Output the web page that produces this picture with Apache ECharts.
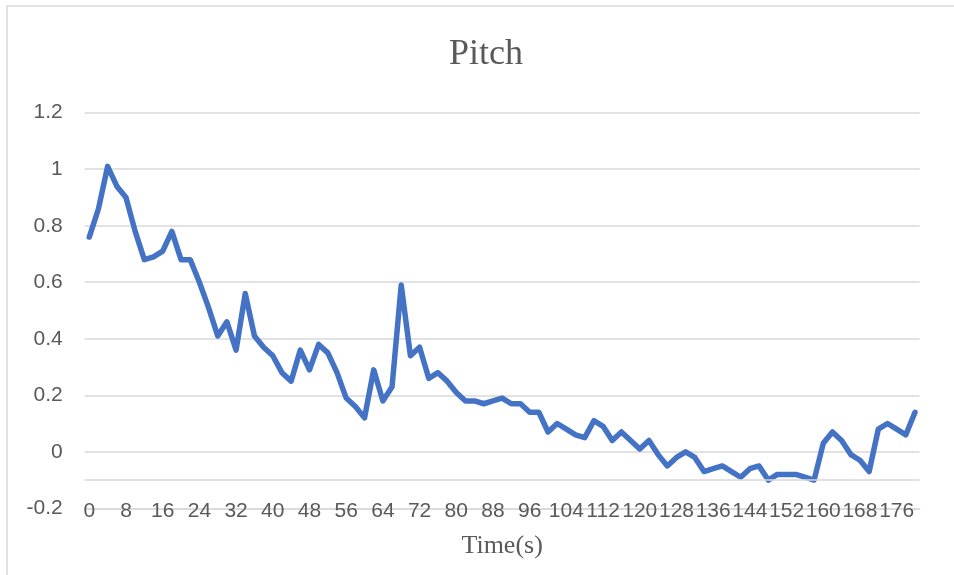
<!DOCTYPE html>
<html lang="en">
<head>
	<meta charset="UTF-8">
	<title>Pitch</title>
	<style>
		html, body { margin: 0; padding: 0; background: #fff; }
		#chart { width: 954px; height: 575px; }
	</style>
</head>
<body>
	<div id="chart"></div>
	<script src="https://cdn.jsdelivr.net/npm/echarts@6/dist/echarts.min.js"></script>
	<script>
		// time axis (s), one sample every 2 s
		var times = [0, 2, 4, 6, 8, 10, 12, 14, 16, 18, 20, 22, 24, 26, 28, 30, 32, 34, 36, 38,
			40, 42, 44, 46, 48, 50, 52, 54, 56, 58, 60, 62, 64, 66, 68, 70, 72, 74, 76, 78,
			80, 82, 84, 86, 88, 90, 92, 94, 96, 98, 100, 102, 104, 106, 108, 110, 112, 114, 116, 118,
			120, 122, 124, 126, 128, 130, 132, 134, 136, 138, 140, 142, 144, 146, 148, 150, 152, 154, 156, 158,
			160, 162, 164, 166, 168, 170, 172, 174, 176, 178, 180];

		// pitch values
		var pitch = [0.76, 0.86, 1.01, 0.94, 0.90, 0.78, 0.68, 0.69, 0.71, 0.78,
			0.68, 0.68, 0.60, 0.51, 0.41, 0.46, 0.36, 0.56, 0.41, 0.37,
			0.34, 0.28, 0.25, 0.36, 0.29, 0.38, 0.35, 0.28, 0.19, 0.16,
			0.12, 0.29, 0.18, 0.23, 0.59, 0.34, 0.37, 0.26, 0.28, 0.25,
			0.21, 0.18, 0.18, 0.17, 0.18, 0.19, 0.17, 0.17, 0.14, 0.14,
			0.07, 0.10, 0.08, 0.06, 0.05, 0.11, 0.09, 0.04, 0.07, 0.04,
			0.01, 0.04, -0.01, -0.05, -0.02, 0.00, -0.02, -0.07, -0.06, -0.05,
			-0.07, -0.09, -0.06, -0.05, -0.10, -0.08, -0.08, -0.08, -0.09, -0.10,
			0.03, 0.07, 0.04, -0.01, -0.03, -0.07, 0.08, 0.10, 0.08, 0.06,
			0.14];

		// y axis range
		var yMin = -0.2, yMax = 1.2, yStep = 0.2;
		// extra horizontal line seen in the picture
		var extraLine = -0.1;

		var gridColor = '#d9d9d9';
		var textColor = '#595959';

		var myChart = echarts.init(document.getElementById('chart'));
		var option = {
			animation: false,
			title: {
				text: 'Pitch',
				left: 449,
				top: 37,
				padding: 0,
				textStyle: {
					fontFamily: 'Liberation Serif',
					fontSize: 36,
					fontWeight: 'normal',
					color: textColor
				}
			},
			graphic: [{
				type: 'rect',
				shape: { x: 7, y: 6, width: 1000, height: 1000 },
				style: { fill: 'none', stroke: gridColor, lineWidth: 1.5 },
				silent: true
			}],
			grid: {
				left: 84.7,
				right: 34.4,
				top: 112.7,
				bottom: 66.7
			},
			xAxis: {
				type: 'category',
				data: times,
				boundaryGap: true,
				name: 'Time(s)',
				nameLocation: 'middle',
				nameGap: 25,
				nameTextStyle: {
					fontFamily: 'Liberation Serif',
					fontSize: 26,
					color: textColor
				},
				axisLine: { onZero: false, lineStyle: { color: gridColor, width: 1.6 } },
				axisTick: { show: false },
				axisLabel: {
					interval: 3,
					margin: -8,
					fontFamily: 'Liberation Sans',
					fontSize: 21,
					color: textColor
				},
				splitLine: { show: false }
			},
			yAxis: {
				type: 'value',
				min: yMin,
				max: yMax,
				interval: yStep,
				axisLine: { show: false },
				axisTick: { show: false },
				axisLabel: {
					margin: 22,
					fontFamily: 'Liberation Sans',
					fontSize: 21,
					color: textColor
				},
				splitLine: { lineStyle: { color: gridColor, width: 1.6 } }
			},
			series: [{
				type: 'line',
				data: [],
				z: 1,
				silent: true,
				markLine: {
					silent: true,
					symbol: 'none',
					label: { show: false },
					lineStyle: { color: gridColor, type: 'solid', width: 1.6 },
					data: [{ yAxis: extraLine }]
				}
			}, {
				name: 'Pitch',
				type: 'line',
				data: pitch,
				z: 3,
				showSymbol: false,
				symbol: 'none',
				lineStyle: { color: '#4472c4', width: 5.5, cap: 'round', join: 'round' }
			}]
		};
		myChart.setOption(option);
	</script>
</body>
</html>
